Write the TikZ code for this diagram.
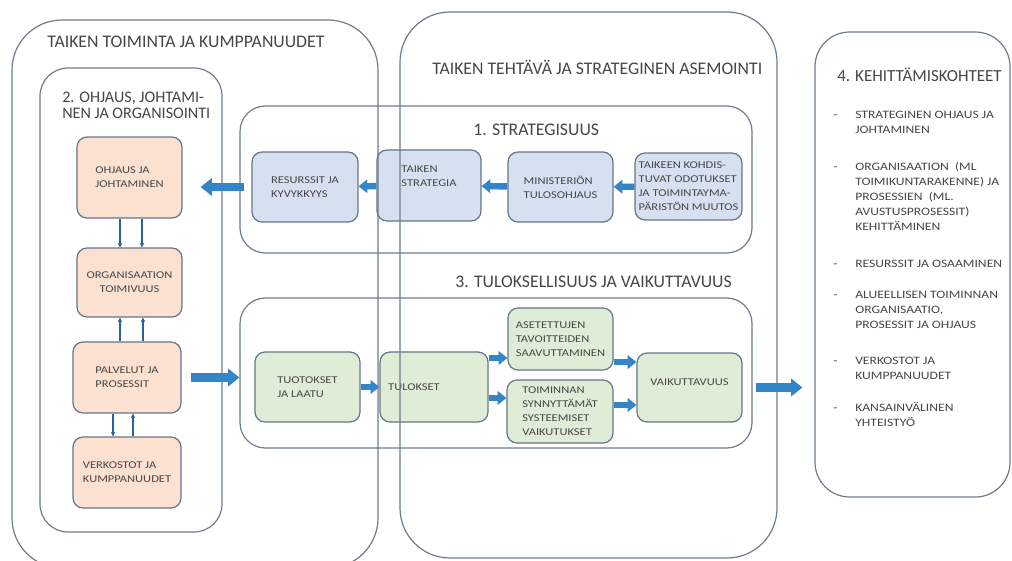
\documentclass[tikz,border=0pt]{standalone}
\usepackage{fontspec}
\setmainfont{Carlito}
\newfontfamily\widefont{Carlito}[FakeStretch=1.2]
\usetikzlibrary{fit,arrows.meta}
\definecolor{edge}{RGB}{100,118,138}
\definecolor{bfill}{RGB}{214,224,240}
\definecolor{ofill}{RGB}{252,224,208}
\definecolor{gfill}{RGB}{224,237,214}
\definecolor{arr}{RGB}{52,132,200}
\definecolor{txt}{RGB}{70,70,70}
\definecolor{frame}{RGB}{110,125,140}
\begin{document}
\begin{tikzpicture}[x=0.75pt,y=-0.75pt,
  every node/.style={text=txt, font=\widefont\fontsize{7.8}{10.5}\selectfont},
  cell/.style={draw=edge, line width=0.9pt, rounded corners=7.5pt, inner sep=0pt, align=left},
  bluecell/.style={cell, fill=bfill},
  orcell/.style={cell, fill=ofill},
  grcell/.style={cell, fill=gfill},
  frm/.style={draw=frame, line width=0.9pt, inner sep=0pt},
  title/.style={anchor=west, inner sep=0pt, font=\fontsize{13.3}{15}\selectfont},
  kitem/.style={anchor=north west, inner sep=0pt, align=left, font=\widefont\fontsize{8.5}{11.25}\selectfont},
  bigarrow/.style={draw=arr, line width=6.5pt, -{Triangle[length=8.5pt,width=13pt]}},
  midarrow/.style={draw=arr, line width=4.8pt, -{Triangle[length=6.5pt,width=10pt]}},
  thinarrow/.style={draw=arr!75!black, line width=0.8pt, -{Stealth[length=3.5pt,width=3.5pt]}},
]
\fill[white] (0,0) rectangle (1012,560);
\useasboundingbox (0,0) rectangle (1012,560);

% inner frames
\node[frm, rounded corners=21pt, fit={(40,68)(222,532)}] (C) {};
\node[frm, rounded corners=19pt, fit={(240,106)(752,253)}] (S) {};
\node[frm, rounded corners=19pt, fit={(240,298)(752,448)}] (R) {};
\node[frm, rounded corners=26pt, fit={(815,32)(1010,497)}] (K) {};

% blue cells
\node[bluecell, minimum width=79.5pt, minimum height=52.5pt] (res) at (305,187) {RESURSSIT JA\\KYVYKKYYS};
\node[bluecell, minimum width=78pt, minimum height=53.25pt] (strat) at (429,185.5) {TAIKEN\\STRATEGIA\\[4pt]};
\node[bluecell, minimum width=78.75pt, minimum height=52.5pt] (min) at (560.5,187) {MINISTERIÖN\\TULOSOHJAUS};
\node[bluecell, minimum width=80.25pt, minimum height=50.25pt] (kohd) at (688.5,186.5) {TAIKEEN KOHDIS-\\TUVAT ODOTUKSET\\JA TOIMINTAYMA-\\PÄRISTÖN MUUTOS};

% orange cells
\node[orcell, minimum width=78.75pt, minimum height=60.75pt] (ohj) at (129.5,177.5) {OHJAUS JA\\JOHTAMINEN};
\node[orcell, minimum width=78.75pt, minimum height=51.75pt] (org) at (129.5,282.5) {\begin{tabular}{@{}c@{}}ORGANISAATION\\TOIMIVUUS\end{tabular}};
\node[orcell, minimum width=81pt, minimum height=53.25pt] (palv) at (127,377.5) {PALVELUT JA\\PROSESSIT};
\node[orcell, minimum width=81pt, minimum height=53.25pt] (verk) at (127,472.5) {VERKOSTOT JA\\KUMPPANUUDET};

% green cells
\node[grcell, minimum width=78.75pt, minimum height=52.5pt] (tuot) at (307.5,387) {TUOTOKSET\\JA LAATU};
\node[grcell, minimum width=81pt, minimum height=52.5pt] (tul) at (434,387) {TULOKSET\hspace{30pt}};
\node[grcell, minimum width=78.75pt, minimum height=46.5pt] (aset) at (560.5,339) {ASETETTUJEN\\TAVOITTEIDEN\\SAAVUTTAMINEN};
\node[grcell, minimum width=79.5pt, minimum height=47.25pt] (toim) at (560,411.5) {TOIMINNAN\\SYNNYTTÄMÄT\\SYSTEEMISET\\VAIKUTUKSET};
\node[grcell, minimum width=78.75pt, minimum height=51.75pt] (vaik) at (689.5,387.5) {VAIKUTTAVUUS\\[-3pt]};

% outer frames (drawn over the cells)
\node[frm, rounded corners=37.5pt, fit={(12,20)(378,568)}] (A) {};
\node[frm, rounded corners=37.5pt, fit={(400,12)(777,558)}] (B) {};

% titles
\node[title] (tA) at (47,42) {TAIKEN TOIMINTA JA KUMPPANUUDET};
\node[title] (tB) at (432,67) {TAIKEN TEHTÄVÄ JA STRATEGINEN ASEMOINTI};
\node[title, font=\fontsize{12.1}{12}\selectfont, align=left] (tC) at (62,105) {2. OHJAUS, JOHTAMI-\\NEN JA ORGANISOINTI};
\node[title] (tS) at (473,130) {1. STRATEGISUUS};
\node[title] (tR) at (455,282) {3. TULOKSELLISUUS JA VAIKUTTAVUUS};
\node[title, font=\fontsize{12.7}{14}\selectfont] (tK) at (837,75) {4. KEHITTÄMISKOHTEET};

% list
\newcommand\kb{\llap{\makebox[16.5pt][l]{-}}\strut}
\node[kitem] (k1) at (855,108) {\kb STRATEGINEN OHJAUS JA\\JOHTAMINEN};
\node[kitem] (k2) at (855,160) {\kb ORGANISAATION\ \ (ML\\TOIMIKUNTARAKENNE) JA\\PROSESSIEN\ \ (ML.\\AVUSTUSPROSESSIT)\\KEHITTÄMINEN};
\node[kitem] (k3) at (855,257) {\kb RESURSSIT JA OSAAMINEN};
\node[kitem] (k4) at (855,288) {\kb ALUEELLISEN TOIMINNAN\\ORGANISAATIO,\\PROSESSIT JA OHJAUS};
\node[kitem] (k5) at (855,354) {\kb VERKOSTOT JA\\KUMPPANUUDET};
\node[kitem] (k6) at (855,401) {\kb KANSAINVÄLINEN\\YHTEISTYÖ};

% strategy arrows
\draw[midarrow] (kohd) -- (min);
\draw[midarrow] (min) -- (strat);
\draw[midarrow] (strat) -- (res);
\draw[bigarrow, shorten <=5.25pt, shorten >=13.5pt] (res.west) -- (res.west -| ohj.east);

% results arrows
\draw[midarrow] (tuot) -- (tul);
\draw[midarrow] ([yshift=21.75pt]tul.east) -- ([yshift=21.75pt]tul.east -| aset.west);
\draw[midarrow] ([yshift=-8.25pt]tul.east) -- ([yshift=-8.25pt]tul.east -| toim.west);
\draw[midarrow] ([yshift=-17.25pt]aset.east) -- ([yshift=-17.25pt]aset.east -| vaik.west);
\draw[midarrow] ([yshift=4.9pt]toim.east) -- ([yshift=4.9pt]toim.east -| vaik.west);
\draw[bigarrow, shorten <=6.75pt, shorten >=11.25pt] (palv.east) -- (palv.east -| tuot.west);
\draw[bigarrow, shorten <=9.75pt, shorten >=9pt] (vaik.east) -- (vaik.east -| K.west);

% thin arrows between orange cells
\draw[thinarrow] ([xshift=-7.125pt]ohj.south) -- ([xshift=-7.125pt]ohj.south |- org.north);
\draw[thinarrow] ([xshift=9.375pt]ohj.south) -- ([xshift=9.375pt]ohj.south |- org.north);
\draw[thinarrow] ([xshift=-7.125pt]palv.north -| org.center) -- ([xshift=-7.125pt]org.south);
\draw[thinarrow] ([xshift=10.125pt]palv.north -| org.center) -- ([xshift=10.125pt]org.south);
\draw[thinarrow] ([xshift=-10.5pt]palv.south) -- ([xshift=-10.5pt]palv.south |- verk.north);
\draw[thinarrow] ([xshift=4.5pt]verk.north) -- ([xshift=4.5pt]verk.north |- palv.south);
\end{tikzpicture}
\end{document}
